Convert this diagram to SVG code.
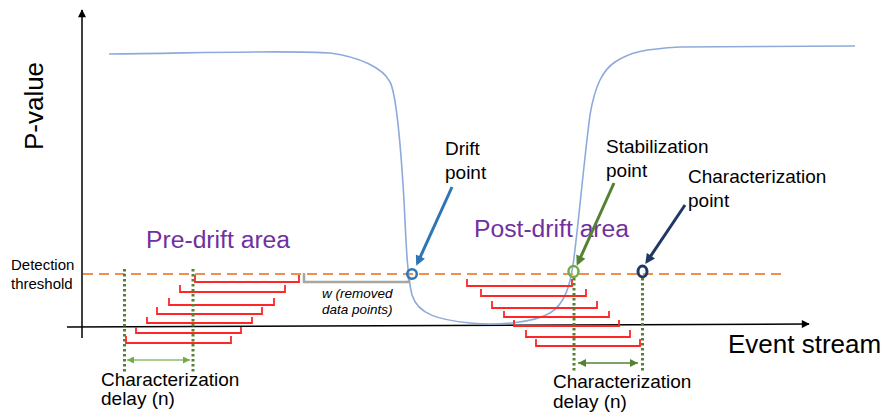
<svg xmlns="http://www.w3.org/2000/svg" width="888" height="419" viewBox="0 0 888 419">
<style>
text{font-family:"Liberation Sans",Arial,sans-serif;fill:#000}
.lbl{font-size:19px}
.area{font-size:24.7px;fill:#7030a0}
.small{font-size:15px}
.ital{font-size:13.5px;font-style:italic}
.red{fill:none;stroke:#ff2626;stroke-width:1.8}
.dot{stroke:#548235;stroke-width:3;stroke-dasharray:2.5 2.5;fill:none}
.axis{stroke:#000;stroke-width:1.5;fill:none}
</style>
<defs>
<marker id="ahBlack" viewBox="0 0 10 10" refX="9" refY="5" markerUnits="userSpaceOnUse" markerWidth="9" markerHeight="8" orient="auto"><path d="M0,0 L10,5 L0,10 z" fill="#000"/></marker>
<marker id="ahBlue" viewBox="0 0 10 10" refX="7" refY="5" markerUnits="userSpaceOnUse" markerWidth="11" markerHeight="10" orient="auto"><path d="M0,0 L10,5 L0,10 z" fill="#2e75b6"/></marker>
<marker id="ahGreen" viewBox="0 0 10 10" refX="7" refY="5" markerUnits="userSpaceOnUse" markerWidth="11" markerHeight="10" orient="auto"><path d="M0,0 L10,5 L0,10 z" fill="#548235"/></marker>
<marker id="ahNavy" viewBox="0 0 10 10" refX="7" refY="5" markerUnits="userSpaceOnUse" markerWidth="11" markerHeight="10" orient="auto"><path d="M0,0 L10,5 L0,10 z" fill="#1f3864"/></marker>
<marker id="ahLight" viewBox="0 0 10 10" refX="10" refY="5" markerUnits="userSpaceOnUse" markerWidth="8" markerHeight="7" orient="auto-start-reverse"><path d="M0,0 L10,5 L0,10 z" fill="#70ad47"/></marker>
<marker id="ahDelay" viewBox="0 0 10 10" refX="10" refY="5" markerUnits="userSpaceOnUse" markerWidth="9" markerHeight="8" orient="auto-start-reverse"><path d="M0,0 L10,5 L0,10 z" fill="#548235"/></marker>
</defs>
<rect width="888" height="419" fill="#fff"/>

<g id="axes">
<line class="axis" x1="82" y1="338" x2="82" y2="10" marker-end="url(#ahBlack)"/>
<line class="axis" x1="67" y1="327" x2="809" y2="324" marker-end="url(#ahBlack)"/>
<text transform="translate(43,106) rotate(-90)" text-anchor="middle" font-size="26">P-value</text>
<text x="728" y="353" font-size="26">Event stream</text>
</g>

<g id="threshold">
<line x1="83" y1="274" x2="786" y2="274" stroke="#ed7d31" stroke-opacity="0.85" stroke-width="2" stroke-dasharray="10 6"/>
<text class="small" x="11" y="270">Detection</text>
<text class="small" x="11" y="289">threshold</text>
</g>

<g id="p-value-curve">
<path d="M109,54 C200,53 290,50 330,53 C360,57 383,68 390,82 C397,95 401,150 404,200 C406,240 407,275 412,295 C418,315 440,320 470,323 C500,326 535,322 550,313 C565,304 570,285 573,265 C578,230 584,160 590,115 C595,85 603,70 615,62 C630,52 645,49 680,47 L855,46" fill="none" stroke="#8eaadb" stroke-width="1.6"/>
</g>

<g id="pre-drift-area">
<text class="area" x="146" y="248">Pre-drift area</text>
<path class="red" d="M195,275 V282 H299 V275"/>
<path class="red" d="M180,285 V292 H285 V285"/>
<path class="red" d="M169,298 V305 H274 V298"/>
<path class="red" d="M157,307 V314 H262 V307"/>
<path class="red" d="M147,317 V323 H252 V317"/>
<path class="red" d="M136,327 V333 H241 V327"/>
<path class="red" d="M126,336 V343 H231 V336"/>
</g>

<g id="post-drift-area">
<text class="area" x="474" y="237">Post-drift area</text>
<path class="red" d="M467,279 V286 H572 V279"/>
<path class="red" d="M481,289 V296 H586 V289"/>
<path class="red" d="M492,301 V308 H597 V301"/>
<path class="red" d="M504,311 V317 H609 V311"/>
<path class="red" d="M514,320 V326 H619 V320"/>
<path class="red" d="M526,330 V337 H630 V330"/>
<path class="red" d="M536,339 V346 H640 V339"/>
</g>

<g id="removed-window">
<path d="M304,273 V282 H409 V276" fill="none" stroke="#a6a6a6" stroke-width="2.5"/>
<text class="ital" x="322" y="298">w (removed</text>
<text class="ital" x="322" y="314">data points)</text>
</g>

<g id="drift-point">
<circle cx="412" cy="274" r="4.8" fill="none" stroke="#2e75b6" stroke-width="2.5"/>
<text class="lbl" x="445" y="155">Drift</text>
<text class="lbl" x="445" y="179">point</text>
</g>

<g id="stabilization-point">
<ellipse cx="573.5" cy="271.5" rx="5" ry="5.5" fill="none" stroke="#70ad47" stroke-width="2.5"/>
<text class="lbl" x="606" y="153">Stabilization</text>
<text class="lbl" x="606" y="177">point</text>
</g>

<g id="characterization-point">
<ellipse cx="642.5" cy="271.5" rx="4.5" ry="5.5" fill="none" stroke="#1f3864" stroke-width="3"/>
<text class="lbl" x="688" y="183">Characterization</text>
<text class="lbl" x="688" y="207">point</text>
</g>

<g id="pre-delay">
<line class="dot" x1="124.5" y1="269" x2="124.5" y2="372"/>
<line class="dot" x1="193" y1="269" x2="193" y2="372"/>
<text class="lbl" x="101" y="386">Characterization</text>
<text class="lbl" x="101" y="405">delay (n)</text>
</g>

<g id="post-delay">
<line class="dot" x1="574" y1="278" x2="574" y2="372"/>
<line class="dot" x1="642.5" y1="278" x2="642.5" y2="372"/>
<text class="lbl" x="553" y="388">Characterization</text>
<text class="lbl" x="553" y="408">delay (n)</text>
</g>

<g id="connectors">
<line x1="452" y1="187" x2="417.5" y2="263" stroke="#2e75b6" stroke-width="3" marker-end="url(#ahBlue)"/>
<line x1="614" y1="183" x2="578" y2="263" stroke="#548235" stroke-width="3" marker-end="url(#ahGreen)"/>
<line x1="685" y1="205" x2="647" y2="261.5" stroke="#1f3864" stroke-width="3" marker-end="url(#ahNavy)"/>
<line x1="127" y1="360" x2="190" y2="360" stroke="#8fbc70" stroke-width="1.5" marker-start="url(#ahLight)" marker-end="url(#ahLight)"/>
<line x1="578" y1="363" x2="638" y2="363" stroke="#548235" stroke-width="1.5" marker-start="url(#ahDelay)" marker-end="url(#ahDelay)"/>
</g>
</svg>
